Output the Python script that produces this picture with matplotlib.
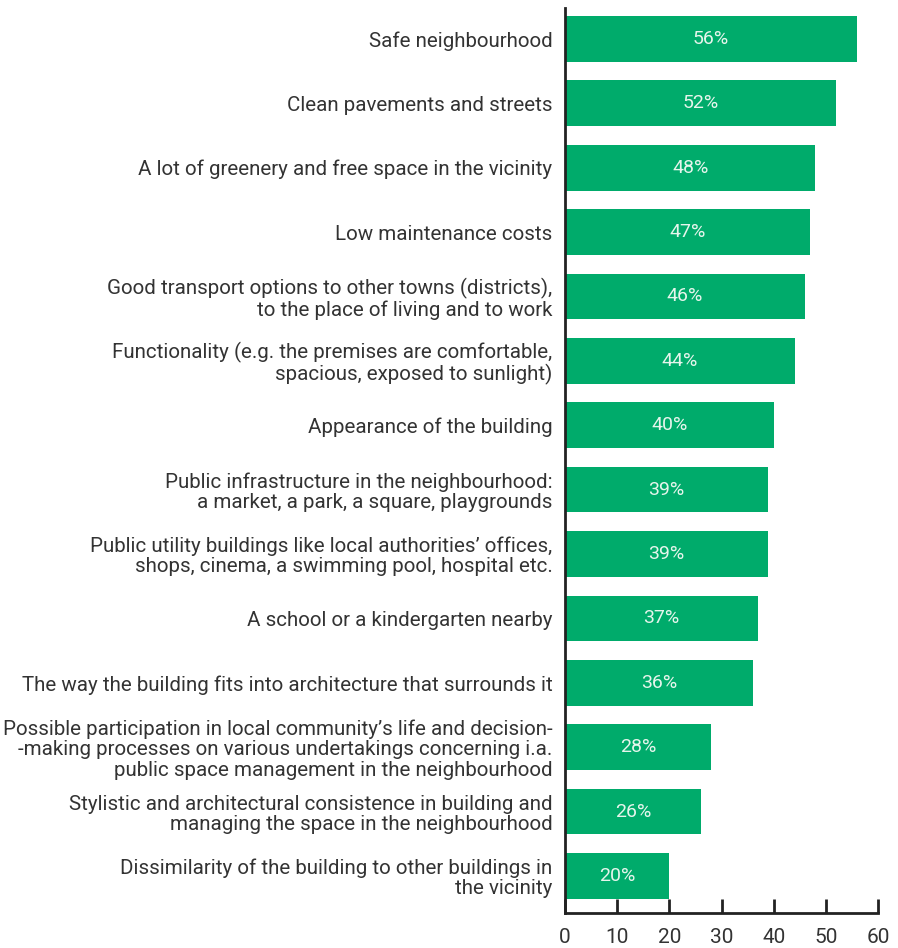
import matplotlib
matplotlib.use("Agg")
import matplotlib.pyplot as plt

categories = [
    "Safe neighbourhood",
    "Clean pavements and streets",
    "A lot of greenery and free space in the vicinity",
    "Low maintenance costs",
    "Good transport options to other towns (districts),\nto the place of living and to work",
    "Functionality (e.g. the premises are comfortable,\nspacious, exposed to sunlight)",
    "Appearance of the building",
    "Public infrastructure in the neighbourhood:\na market, a park, a square, playgrounds",
    "Public utility buildings like local authorities\u2019 offices,\nshops, cinema, a swimming pool, hospital etc.",
    "A school or a kindergarten nearby",
    "The way the building fits into architecture that surrounds it",
    "Possible participation in local community\u2019s life and decision-\n-making processes on various undertakings concerning i.a.\npublic space management in the neighbourhood",
    "Stylistic and architectural consistence in building and\nmanaging the space in the neighbourhood",
    "Dissimilarity of the building to other buildings in\nthe vicinity",
]
values = [56, 52, 48, 47, 46, 44, 40, 39, 39, 37, 36, 28, 26, 20]
x_ticks = [0, 10, 20, 30, 40, 50, 60]

plt.rcParams["font.family"] = ["Roboto", "DejaVu Sans"]

fig = plt.figure(figsize=(8.98, 9.48), dpi=100)
ax = fig.add_axes([565 / 898, 35 / 948, 313 / 898, 905 / 948])

bar_color = "#00AB6B"
text_color = "#333333"
spine_color = "#222222"

pos = list(range(len(categories)))
ax.barh(pos, values, height=0.71, color=bar_color, zorder=2)
for p, v in zip(pos, values):
    ax.text(v / 2, p, f"{v}%", ha="center", va="center", color="#e6f5ec",
            fontsize=14)

ax.set_xlim(0, 60)
ax.set_ylim(13.575, -0.48)
ax.set_yticks(pos)
ax.set_yticklabels(categories, fontsize=14.8, color=text_color, linespacing=1.07)
ax.set_xticks(x_ticks)
ax.set_xticklabels([str(t) for t in x_ticks], fontsize=15, color=text_color)

ax.tick_params(axis="y", length=0, pad=9)
ax.tick_params(axis="x", direction="in", length=10, width=2, color=spine_color, pad=11)

for side in ("top", "right"):
    ax.spines[side].set_visible(False)
for side in ("left", "bottom"):
    ax.spines[side].set_color(spine_color)
    ax.spines[side].set_linewidth(2)

fig.savefig("out.png", dpi=100)
